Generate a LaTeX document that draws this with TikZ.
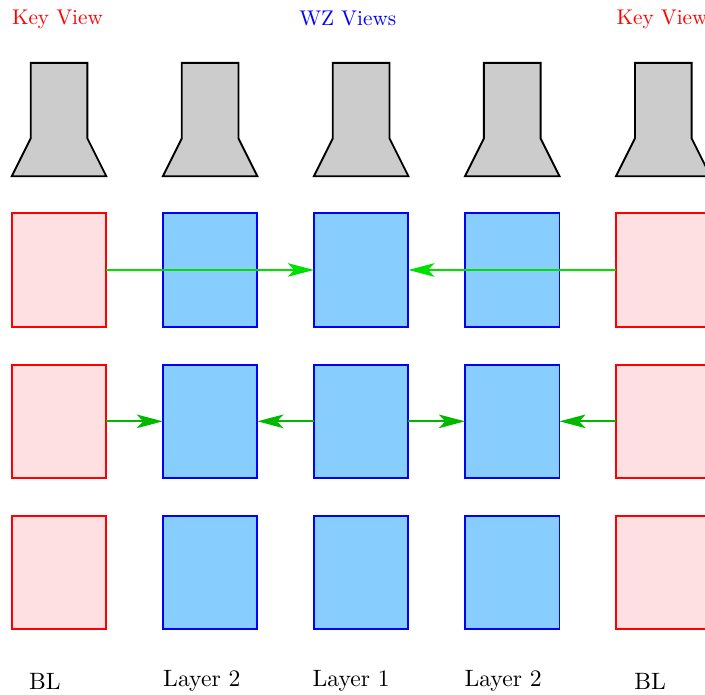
\documentclass[tikz,border=0pt]{standalone}
\usetikzlibrary{matrix,arrows.meta}
\definecolor{keyfill}{RGB}{255,224,226}
\definecolor{wzfill}{RGB}{135,206,255}
\tikzset{
keyview/.style={draw=red,fill=keyfill},
wzview/.style={draw=blue,fill=wzfill},
camera/.style={draw=black,fill=black!20,line width=1.4pt},
viewlabel/.style={scale=1.6,transform shape,inner sep=0pt},
layerlabel/.style={scale=1.78,transform shape,inner sep=0pt},
}
\begin{document}
\begin{tikzpicture}[>={Stealth[length=.69cm,width=.36cm,inset=.17cm]}]
\useasboundingbox (0,0) rectangle (18.65,-18.36);
\matrix(a)[matrix of nodes,anchor=north west,inner sep=0pt,
row sep=.955cm, column sep=1.447cm,
nodes={minimum width=2.5cm,minimum height=3cm,inner sep=0pt,outer sep=0pt,line width=1.4pt}]
at (.28,-1.655)
{
|(c1)|{}&|(c2)|{}&|(c3)|{}&|(c4)|{}&|(c5)|{}\\
|[keyview]|{}&|[wzview]|{}&|[wzview]|{}&|[wzview]|{}&|[keyview]|{}\\
|[keyview]|{}&|[wzview]|{}&|[wzview]|{}&|[wzview]|{}&|[keyview]|{}\\
|[keyview]|{}&|[wzview]|{}&|[wzview]|{}&|[wzview]|{}&|[keyview]|{}\\};
\foreach \i in {1,...,5}
\draw[camera] (c\i.north) ++(-.75,0) -- ++(1.5,0) -- ++(0,-2) -- ++(.5,-1)
-- ++(-2.5,0) -- ++(.5,1) -- cycle;
\path[->,line width=1.4pt,color=green!88!black](a-2-1) edge (a-2-3);
\path[->,line width=1.4pt,color=green!88!black](a-2-5) edge (a-2-3);
\path[->,line width=1.4pt,color=green!72!black](a-3-1) edge (a-3-2);
\path[->,line width=1.4pt,color=green!72!black](a-3-3) edge (a-3-2);
\path[->,line width=1.4pt,color=green!72!black](a-3-3) edge (a-3-4);
\path[->,line width=1.4pt,color=green!72!black](a-3-5) edge (a-3-4);
\node[viewlabel,red] (key1) at (1.52,-.52) {Key View};
\node[viewlabel,blue] (wz) at (9.2,-.5) {WZ Views};
\node[viewlabel,red,anchor=west] (key2) at (16.3,-.52) {Key View};
\node[layerlabel] (bl1) at (1.19,-18.02) {BL};
\node[layerlabel] (layer1) at (5.34,-18.02) {Layer 2};
\node[layerlabel] (layer2) at (9.29,-18.02) {Layer 1};
\node[layerlabel] (layer3) at (13.31,-18.02) {Layer 2};
\node[layerlabel] (bl2) at (17.2,-18.02) {BL};
\end{tikzpicture}
\end{document}
